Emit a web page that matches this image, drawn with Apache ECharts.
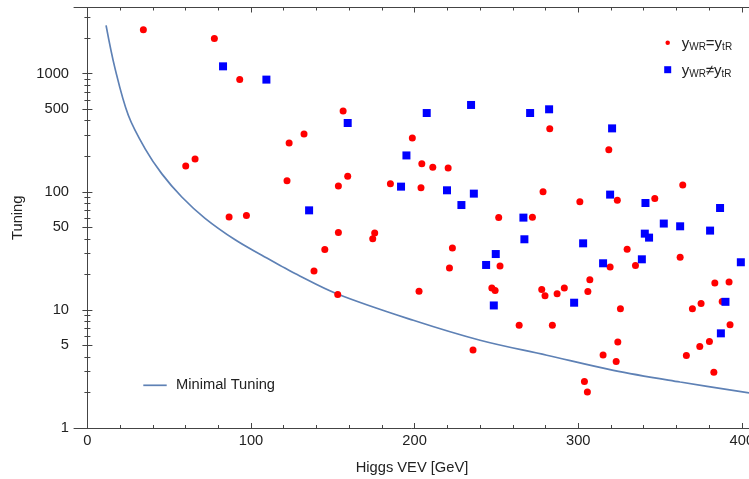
<!DOCTYPE html>
<html><head><meta charset="utf-8">
<script src="https://cdn.jsdelivr.net/npm/echarts@6/dist/echarts.min.js"></script>
<style>html,body{margin:0;padding:0;background:#fff}#c{width:749px;height:479px}</style>
</head><body><div id="c"></div>
<script>
// Minimal tuning curve
const curveV = [11.4,16.9,25.0,35.2,45.4,57.7,71.9,90.3,106.6,117.8,126.9,152.4,199.2,240.0,280.8,321.5,362.3,404.4];
const curveT = [2564,1103,443.7,231.8,142.4,90.3,59.6,39.2,29.0,23.8,20.3,13.7,8.16,5.53,4.13,3.08,2.45,1.98];
// yWR = ytR (red circles)
const redV = [34.2,77.6,93.1,65.8,60.1,156.3,132.4,123.3,198.6,318.7,282.6,86.6,97.2,204.4,211.1,220.5,122.0,159.1,153.4,185.2,203.9,251.4,153.4,175.6,174.4,145.1,223.1,138.5,221.3,153.0,202.7,247.2,249.2,252.2,235.7,363.9,278.5,323.9,301.0,346.8,272.0,329.9,362.3,319.5,335.0,307.1,277.7,279.7,287.1,291.5,305.9,383.5,392.2,325.8,369.8,375.1,388.0,263.9,284.2,315.2,324.2,323.2,303.8,305.6,366.1,374.3,380.2,382.9,392.8];
const redT = [2358,1979,890,189,165,483,308,259,285,227,342,61.1,62.8,173,161,159,124,135,112,117,108,60.4,45.1,44.7,40.1,32.4,33.4,21.3,22.6,13.5,14.4,15.3,14.6,23.5,4.57,114,100,84.6,82.5,87.5,60.8,32.6,27.9,23.1,23.7,18.0,14.9,13.2,13.7,15.3,14.3,16.9,17.2,10.2,10.2,11.3,11.8,7.40,7.40,4.15,5.35,3.65,2.48,2.02,4.10,4.89,5.39,2.96,7.50];
// yWR != ytR (blue squares)
const blueV = [82.9,109.4,159.1,207.4,234.5,195.0,270.6,282.2,320.7,191.7,219.8,236.2,228.6,135.5,249.6,243.7,248.4,319.5,341.1,386.7,266.5,352.3,362.3,380.6,340.7,343.3,267.1,303.0,338.9,315.2,399.4,297.5,390.0,387.2];
const blueT = [1153,890,382,464,543,203,464,499,344,110.5,102.9,96.4,77.2,69.6,29.7,24.0,10.9,94.6,80.3,72.9,60.4,53.8,51.0,46.9,44.2,40.9,39.6,36.6,26.8,24.8,25.3,11.5,11.7,6.33];
// ticks
const xMajor = [0,100,200,300,400];
const xMinor = [20,40,60,80,120,140,160,180,220,240,260,280,320,340,360,380];
const yMajor = [1,5,10,50,100,500,1000];
const yMinor = [2,3,4,6,7,8,9,20,30,40,60,70,80,90,200,300,400,600,700,800,900,2000,3000];

const FONT = '"Liberation Sans", Arial, sans-serif';
const AX = '#444';
const TXT = '#222';
const FS = 14.7;
const X_MIN = -8.2, X_MAX = 405.0, Y_MIN = 1, Y_MAX = 3630;

function xAx(pos, ticks, len, showLine, showLabel, extra) {
  return Object.assign({
    type: 'value', position: pos, min: X_MIN, max: X_MAX, gridIndex: 0,
    axisLine: {show: showLine, onZero: false, lineStyle: {color: AX, width: 1}},
    axisTick: {show: true, inside: true, length: len, customValues: ticks, lineStyle: {color: AX, width: 1}},
    axisLabel: {show: showLabel, customValues: ticks, margin: 5, fontSize: FS, fontFamily: FONT, color: TXT,
      formatter: v => String(v)},
    splitLine: {show: false}
  }, extra || {});
}
function yAx(pos, ticks, len, showLine, showLabel, extra) {
  return Object.assign({
    type: 'log', logBase: 10, position: pos, min: Y_MIN, max: Y_MAX, gridIndex: 0,
    axisLine: {show: showLine, lineStyle: {color: AX, width: 1}},
    axisTick: {show: true, inside: true, length: len, customValues: ticks, lineStyle: {color: AX, width: 1}},
    axisLabel: {show: showLabel, customValues: ticks, margin: 5, fontSize: FS, fontFamily: FONT, color: TXT,
      formatter: v => String(v)},
    splitLine: {show: false}, minorTick: {show: false}
  }, extra || {});
}

function richLeg(padLeft) {
  return {
    a: {fontSize: 15, fontFamily: FONT, color: TXT, lineHeight: 18, padding: [3,0,0,padLeft], verticalAlign: 'middle'},
    m: {fontSize: 15, fontFamily: FONT, color: TXT, lineHeight: 18, padding: [3,0,0,0], verticalAlign: 'middle'},
    s: {fontSize: 10, fontFamily: FONT, color: TXT, lineHeight: 10, padding: [9,0,0,0], verticalAlign: 'middle'}
  };
}

const chart = echarts.init(document.getElementById('c'), null, {renderer: 'canvas'});
chart.setOption({
  animation: false,
  backgroundColor: '#fff',
  grid: {left: 74, right: -1, top: 7.5, bottom: 51, containLabel: false, outerBoundsMode: 'none'},
  xAxis: [
    xAx('bottom', xMajor, 5, true, true, {name: 'Higgs VEV [GeV]', nameLocation: 'middle', nameGap: 32,
      nameTextStyle: {fontSize: FS, fontFamily: FONT, color: TXT}}),
    xAx('bottom', xMinor, 3, false, false),
    xAx('top', xMajor, 5, true, false),
    xAx('top', xMinor, 3, false, false)
  ],
  yAxis: [
    yAx('left', yMajor, 5, true, true, {name: 'Tuning', nameLocation: 'middle', nameGap: 41, nameRotate: 90,
      nameTextStyle: {fontSize: FS, fontFamily: FONT, color: TXT}}),
    yAx('left', yMinor, 3, false, false),
    yAx('right', yMajor, 5, true, false),
    yAx('right', yMinor, 3, false, false)
  ],
  legend: [
    {data: [{name: 'Minimal Tuning', icon: 'rect'}], left: 143.3, top: 377.8, padding: 0, orient: 'vertical',
     itemWidth: 23.4, itemHeight: 1.7, selectedMode: false,
     itemStyle: {color: '#5e81b5', opacity: 1},
     formatter: n => '{t|' + n + '}',
     textStyle: {rich: {t: {fontSize: FS, fontFamily: FONT, color: TXT, lineHeight: 15, padding: [0,0,0,4.3]}}}},
    {data: [{name: 'same', icon: 'circle'}], left: 665.45, top: 33.2, padding: 0, orient: 'vertical',
     itemWidth: 4.5, itemHeight: 4.5, selectedMode: false,
     itemStyle: {color: '#ff0000', opacity: 1},
     formatter: () => '{a|y}{s|WR}{m|=y}{s|tR}', textStyle: {rich: richLeg(6.75)}},
    {data: [{name: 'diff', icon: 'rect'}], left: 664.2, top: 60.2, padding: 0, orient: 'vertical',
     itemWidth: 7, itemHeight: 7, selectedMode: false,
     itemStyle: {color: '#0000ff', opacity: 1},
     formatter: () => '{a|y}{s|WR}{m|\u2260y}{s|tR}', textStyle: {rich: richLeg(5.5)}}
  ],
  series: [
    {type: 'line', name: 'Minimal Tuning', xAxisIndex: 0, yAxisIndex: 0,
     data: curveV.map((v, i) => [v, curveT[i]]), smooth: 0.35, symbol: 'none', showSymbol: false,
     lineStyle: {color: '#5e81b5', width: 1.7}, itemStyle: {color: '#5e81b5'}, z: 1, silent: true},
    {type: 'scatter', name: 'same', xAxisIndex: 0, yAxisIndex: 0,
     data: redV.map((v, i) => [v, redT[i]]), symbol: 'circle', symbolSize: 7,
     itemStyle: {color: '#ff0000', opacity: 1}, z: 2},
    {type: 'scatter', name: 'diff', xAxisIndex: 0, yAxisIndex: 0,
     data: blueV.map((v, i) => [v, blueT[i]]), symbol: 'rect', symbolSize: 8,
     itemStyle: {color: '#0000ff', opacity: 1}, z: 3}
  ]
});
</script></body></html>
